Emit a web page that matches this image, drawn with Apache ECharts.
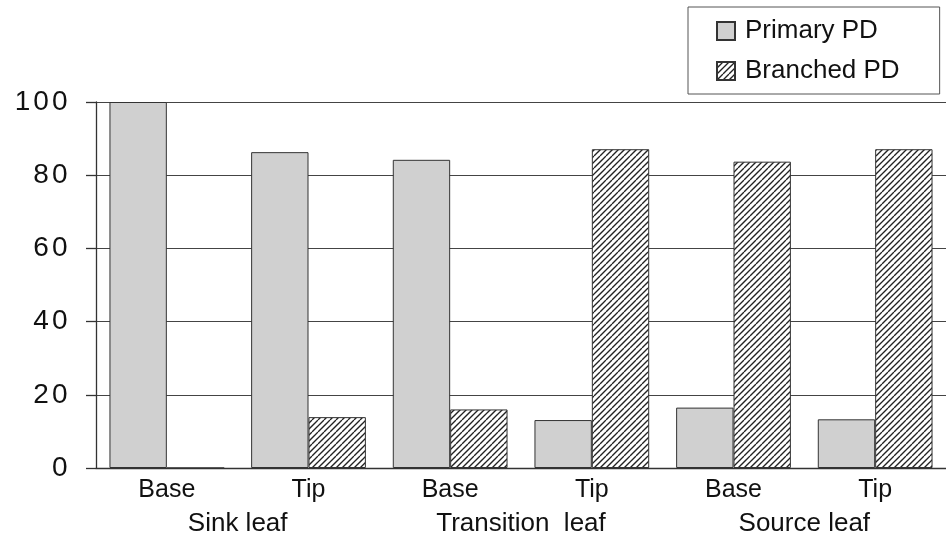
<!DOCTYPE html>
<html>
<head>
<meta charset="utf-8">
<script src="https://cdn.jsdelivr.net/npm/echarts@6/dist/echarts.min.js"></script>
<style>
html,body{margin:0;padding:0;background:#fff;}
#c{width:946px;height:540px;}
</style>
</head>
<body>
<div id="c"></div>
<script>
var categories = ['Base', 'Tip', 'Base', 'Tip', 'Base', 'Tip'];
var groups = ['Sink leaf', 'Transition  leaf', 'Source leaf'];
var seriesNames = ['Primary PD', 'Branched PD'];
var primaryPD = [100, 86.3, 84.2, 13.1, 16.5, 13.3];
var branchedPD = [0, 13.9, 16.0, 87.1, 83.7, 87.1];
var yTicks = [0, 20, 40, 60, 80, 100];

function hatch() {
  var s = 12, p = 6;
  var cv = document.createElement('canvas');
  cv.width = s; cv.height = s;
  var ctx = cv.getContext('2d');
  ctx.fillStyle = '#ffffff';
  ctx.fillRect(0, 0, s, s);
  ctx.strokeStyle = '#222';
  ctx.lineWidth = 1.3;
  for (var o = -2 * s; o <= 2 * s; o += p) {
    ctx.beginPath();
    ctx.moveTo(o, s);
    ctx.lineTo(o + s, 0);
    ctx.stroke();
  }
  return cv;
}

var chart = echarts.init(document.getElementById('c'));
var font = 'Liberation Sans, Arial, Helvetica, sans-serif';
chart.setOption({
  animation: false,
  backgroundColor: '#fff',
  grid: { left: 96, top: 102, height: 366, width: 860 },
  legend: {
    orient: 'vertical',
    left: 688, top: 7,
    padding: [11, 40, 10, 28],
    itemGap: 14,
    itemWidth: 18, itemHeight: 18,
    icon: 'rect',
    borderColor: '#555', borderWidth: 1,
    textStyle: { fontFamily: font, fontSize: 26, color: '#111', padding: [0, 0, 0, 5] },
    data: seriesNames
  },
  xAxis: [{
    type: 'category',
    data: categories,
    axisLine: { show: true, lineStyle: { color: '#333', width: 1.3 } },
    axisTick: { show: false },
    axisLabel: { fontFamily: font, fontSize: 25, color: '#111', margin: 10 }
  }, {
    type: 'category',
    data: groups,
    position: 'bottom',
    axisLine: { show: false },
    axisTick: { show: false },
    axisLabel: { fontFamily: font, fontSize: 26, color: '#111', margin: 43 }
  }],
  yAxis: {
    type: 'value',
    min: yTicks[0], max: yTicks[yTicks.length - 1], interval: 20,
    axisLine: { show: true, lineStyle: { color: '#333', width: 1.3 } },
    axisTick: { show: true, inside: false, length: 10, lineStyle: { color: '#333', width: 1.3 } },
    axisLabel: {
      margin: 27,
      formatter: function (v) {
        return String(v).split('').map(function (d) { return '{d|' + d + '}'; }).join('');
      },
      rich: { d: { fontFamily: font, fontSize: 28, color: '#111', padding: [0, 1.5, 0, 1.5] } }
    },
    splitLine: { show: true, lineStyle: { color: '#444', width: 1.2 } }
  },
  series: [{
    name: seriesNames[0],
    type: 'bar',
    data: primaryPD,
    barGap: '0%',
    barCategoryGap: '19%',
    itemStyle: { color: '#d0d0d0', borderColor: '#333', borderWidth: 1 }
  }, {
    name: seriesNames[1],
    type: 'bar',
    data: branchedPD,
    itemStyle: { color: { image: hatch(), repeat: 'repeat' }, borderColor: '#333', borderWidth: 1 }
  }]
});
</script>
</body>
</html>
